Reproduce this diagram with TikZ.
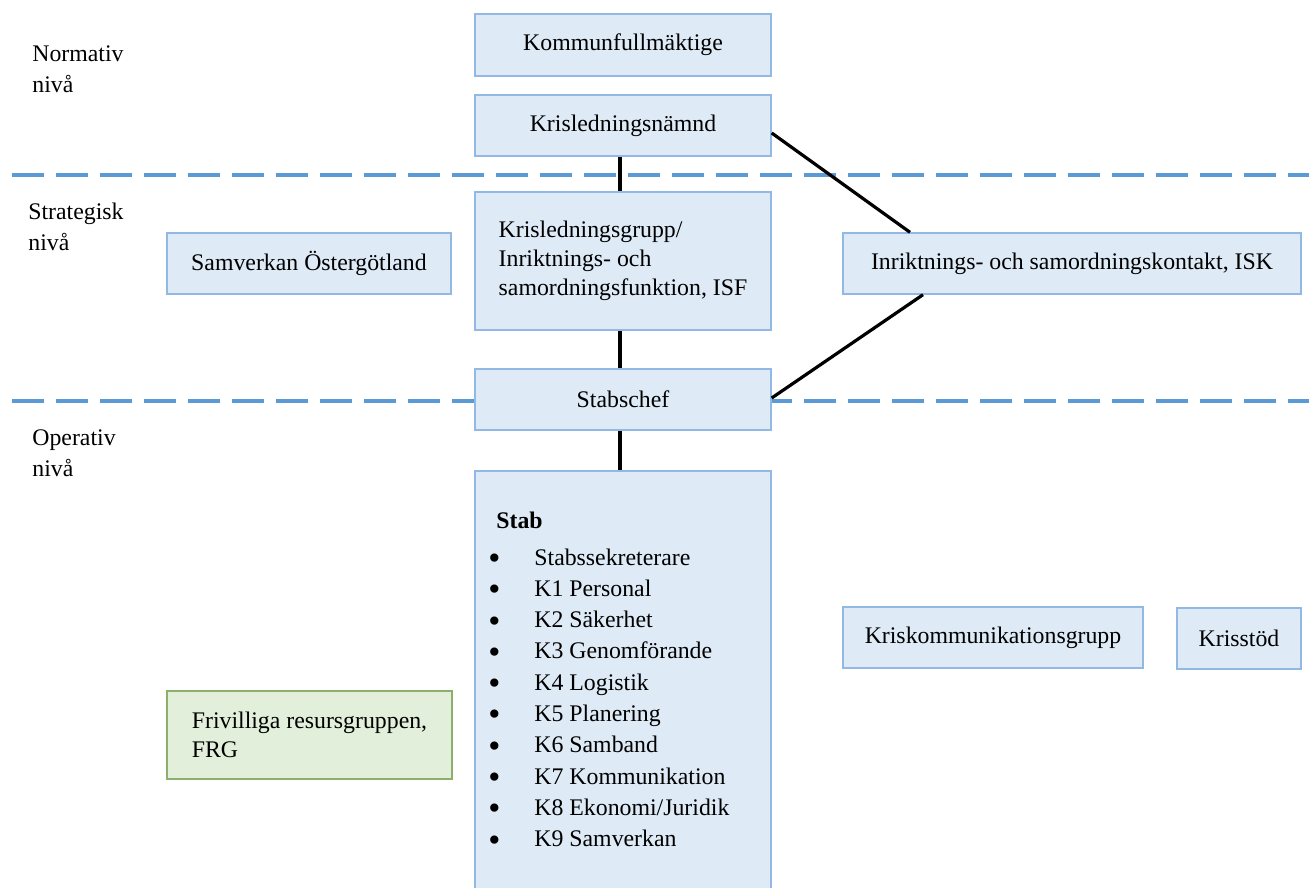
\documentclass[tikz,border=0pt]{standalone}
\usepackage{fontspec}
\usepackage{graphicx}
\setmainfont{Liberation Serif}
\definecolor{bfill}{HTML}{DEEAF6}
\definecolor{bbord}{HTML}{92B9E3}
\definecolor{gfill}{HTML}{E2EFDA}
\definecolor{gbord}{HTML}{8CAF6B}
\definecolor{dashblue}{HTML}{5B9BD5}
\newcommand\dfont{\fontsize{11.9pt}{14.5pt}\selectfont}
\newcommand\lfont{\fontsize{11.9pt}{15.5pt}\selectfont}
\newcommand\twoline[2]{\begin{tabular}[t]{@{}l@{}}#1\\#2\end{tabular}}
\newcommand\bigbul{\raisebox{-2.2pt}{\scalebox{1.45}{\textbullet}}}
\tikzset{
  box/.style={draw=bbord, fill=bfill, line width=0.7pt, inner sep=0pt, font=\dfont, align=center},
  gbox/.style={draw=gbord, fill=gfill, line width=0.7pt, inner sep=0pt, font=\dfont, align=left},
  conn/.style={draw=black, line width=1.6pt},
  levelline/.style={draw=dashblue, line width=1.65pt, dash pattern=on 16pt off 6pt},
  levellabel/.style={anchor=base west, inner sep=0pt, font=\lfont}
}
\begin{document}
\begin{tikzpicture}[x=0.5pt, y=-0.5pt]
\useasboundingbox (0,0) rectangle (1309,887);
% level separators
\draw[levelline] (12,175) -- (1309,175);
\draw[levelline] (12,401) -- (1309,401);
% level labels
\node[levellabel] (lnorm) at (32,62) {\twoline{Normativ}{nivå}};
\node[levellabel] (lstrat) at (28,220) {\twoline{Strategisk}{nivå}};
\node[levellabel] (lop) at (32,445) {\twoline{Operativ}{nivå}};
% boxes
\node[box, minimum width=148pt, minimum height=31pt] (KF) at (623,45) {Kommunfullmäktige};
\node[box, minimum width=148pt, minimum height=30.5pt] (KN) at (623,125.5) {Krisledningsnämnd};
\node[box, minimum width=148pt, minimum height=69pt, align=left] (KG) at (623,261) {Krisledningsgrupp/\\Inriktnings- och\\samordningsfunktion, ISF};
\node[box, minimum width=142pt, minimum height=30.5pt] (SO) at (309,263.5) {Samverkan Östergötland};
\node[box, minimum width=229pt, minimum height=30.5pt] (ISK) at (1072,263.5) {Inriktnings- och samordningskontakt, ISK};
\node[box, minimum width=148pt, minimum height=30.5pt] (SC) at (623,399.5) {Stabschef};
\node[box, minimum width=148pt, minimum height=212pt] (stab) at (623,683) {};
\node[anchor=base west, inner sep=0pt, font=\fontsize{11.9pt}{15.65pt}\selectfont] (stabtxt) at (488,528) {%
\begin{tabular}[t]{@{}p{23pt}@{}l@{}}
\multicolumn{2}{@{\hspace{4pt}}l@{}}{\textbf{Stab}}\\[2.85pt]
\bigbul & Stabssekreterare\\
\bigbul & K1 Personal\\
\bigbul & K2 Säkerhet\\
\bigbul & K3 Genomförande\\
\bigbul & K4 Logistik\\
\bigbul & K5 Planering\\
\bigbul & K6 Samband\\
\bigbul & K7 Kommunikation\\
\bigbul & K8 Ekonomi/Juridik\\
\bigbul & K9 Samverkan
\end{tabular}};
\node[box, minimum width=150pt, minimum height=30.5pt] (KK) at (993,637.5) {Kriskommunikationsgrupp};
\node[box, minimum width=62pt, minimum height=30.5pt] (KS) at (1239,638.5) {Krisstöd};
\node[gbox, minimum width=142.5pt, minimum height=44pt] (FRG) at (309.5,735) {Frivilliga resursgruppen,\\FRG};
% connectors
\draw[conn] ([xshift=-1.5pt]KN.south) -- ([xshift=-1.5pt]KG.north);
\draw[conn] ([xshift=-1.5pt]KG.south) -- ([xshift=-1.5pt]SC.north);
\draw[conn] ([xshift=-1.5pt]SC.south) -- ([xshift=-1.5pt]stab.north);
\draw[conn] ([yshift=-3.75pt]KN.east) -- ([xshift=-81pt]ISK.north);
\draw[conn] ([xshift=-74.5pt]ISK.south) -- ([yshift=0.75pt]SC.east);
\end{tikzpicture}
\end{document}
